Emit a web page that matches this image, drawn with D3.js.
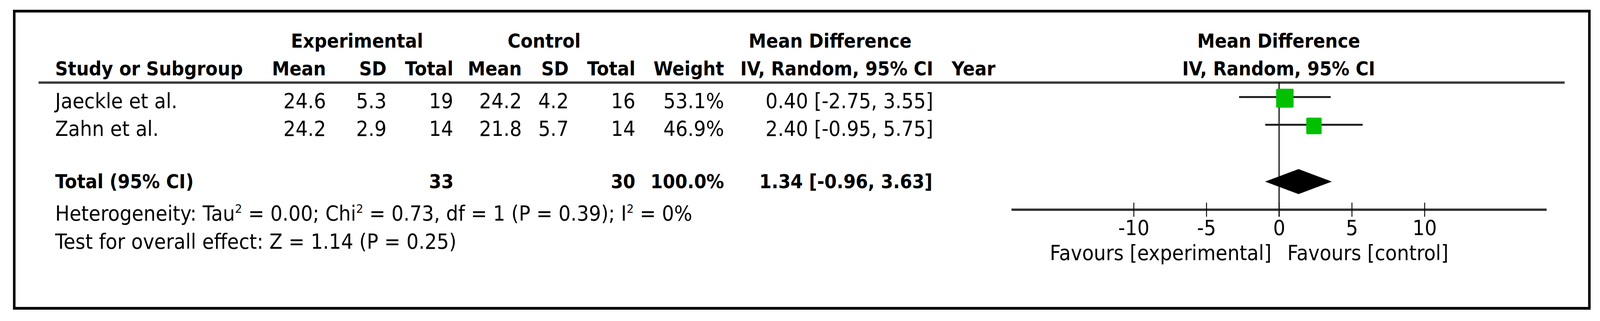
<!DOCTYPE html>
<html lang="en">
  <head>
    <meta charset="utf-8">
    <title>Forest plot - Mean Difference</title>
    <style>
      html, body { margin: 0; padding: 0; background: #fff; overflow: hidden; }
      svg { display: block; background: #fff; width: 100vw; height: 100vh; }
      text { font-family: 'DejaVu Sans', Verdana, sans-serif; font-size: 53px; fill: #000; }
      .bold { font-weight: bold; font-size: 49px; }
    </style>
  </head>
  <body>
    <div id="viz"></div>
    <script src="https://d3js.org/d3.v7.min.js"></script>
    <script>
      // study data
      const studies = ["Jaeckle et al.", "Zahn et al."];
      const expMean = [24.6, 24.2];
      const expSD = [5.3, 2.9];
      const expN = [19, 14];
      const ctlMean = [24.2, 21.8];
      const ctlSD = [4.2, 5.7];
      const ctlN = [16, 14];
      const weights = [53.1, 46.9];
      const md = [0.40, 2.40];
      const mdLo = [-2.75, -0.95];
      const mdHi = [3.55, 5.75];

      const total = { exp: 33, ctl: 30, weight: 100.0, md: 1.34, lo: -0.96, hi: 3.63 };
      const ticks = [-10, -5, 0, 5, 10];
      const xDomain = [-18.4, 18.4];

      const W = 4437, H = 822;

      // drawn in a fixed 4437x822 frame, stretched to whatever the window is
      const svg = d3.select("#viz")
        .append("svg")
        .attr("viewBox", `0 0 ${W} ${H}`)
        .attr("preserveAspectRatio", "none");

      // outer frame
      svg.append("rect")
        .attr("x", 39.5).attr("y", 28.5)
        .attr("width", 4368).attr("height", 761)
        .attr("fill", "none")
        .attr("stroke", "#000")
        .attr("stroke-width", 7);

      const rows = studies.map((s, i) => ({
        study: s, em: expMean[i], esd: expSD[i], en: expN[i],
        cm: ctlMean[i], csd: ctlSD[i], cn: ctlN[i],
        w: weights[i], md: md[i], lo: mdLo[i], hi: mdHi[i]
      }));

      // text baselines of the study rows; plot marks sit a bit above
      const rowY = d3.scalePoint().domain(d3.range(rows.length)).range([277, 348]);
      const baseOf = i => rowY(i);
      const midOf = i => rowY(i) - 28.5;

      const f1 = d3.format(".1f"), f2 = d3.format(".2f");
      const ci = (m, l, h) => `${f2(m)} [${f2(l)}, ${f2(h)}]`.replace(/−/g, "-");

      // columns: x position, anchor
      const cols = [
        { key: "study", x: 153, anchor: "start", head: "Study or Subgroup", fmt: d => d.study },
        { key: "em", x: 904, anchor: "end", head: "Mean", fmt: d => f1(d.em) },
        { key: "esd", x: 1072, anchor: "end", head: "SD", fmt: d => f1(d.esd) },
        { key: "en", x: 1257, anchor: "end", head: "Total", fmt: d => d.en },
        { key: "cm", x: 1447, anchor: "end", head: "Mean", fmt: d => f1(d.cm) },
        { key: "csd", x: 1577, anchor: "end", head: "SD", fmt: d => f1(d.csd) },
        { key: "cn", x: 1762, anchor: "end", head: "Total", fmt: d => d.cn },
        { key: "w", x: 2008, anchor: "end", head: "Weight", fmt: d => f1(d.w) + "%" },
        { key: "md", x: 2588, anchor: "end", head: "IV, Random, 95% CI", fmt: d => ci(d.md, d.lo, d.hi) },
        { key: "year", x: 2639, anchor: "start", head: "Year", fmt: d => "" }
      ];

      // group headings
      const groups = [
        { text: "Experimental", x: 990 },
        { text: "Control", x: 1509 },
        { text: "Mean Difference", x: 2302 },
        { text: "Mean Difference", x: 3546 }
      ];
      svg.append("g").selectAll("text")
        .data(groups)
        .join("text")
        .attr("class", "bold")
        .attr("x", d => d.x).attr("y", 122)
        .attr("text-anchor", "middle")
        .text(d => d.text);

      svg.append("g").selectAll("text")
        .data(cols)
        .join("text")
        .attr("class", "bold")
        .attr("x", d => d.x).attr("y", 193)
        .attr("text-anchor", d => d.anchor)
        .text(d => d.head);

      svg.append("text")
        .attr("class", "bold")
        .attr("x", 3546).attr("y", 193)
        .attr("text-anchor", "middle")
        .text("IV, Random, 95% CI");

      // header rule
      svg.append("line")
        .attr("x1", 107).attr("x2", 4339)
        .attr("y1", 211.5).attr("y2", 211.5)
        .attr("stroke", "#3a3a3a").attr("stroke-width", 6);

      // study rows
      const rowG = svg.append("g").selectAll("g")
        .data(rows)
        .join("g");
      cols.forEach(c => {
        rowG.append("text")
          .attr("x", c.x)
          .attr("y", (d, i) => baseOf(i))
          .attr("text-anchor", c.anchor)
          .text(d => c.fmt(d));
      });

      // total row
      const totY = 482;
      const totCells = [
        { x: 153, a: "start", t: "Total (95% CI)" },
        { x: 1258, a: "end", t: total.exp },
        { x: 1762, a: "end", t: total.ctl },
        { x: 2008, a: "end", t: f1(total.weight) + "%" },
        { x: 2586, a: "end", t: ci(total.md, total.lo, total.hi) }
      ];
      svg.append("g").selectAll("text")
        .data(totCells)
        .join("text")
        .attr("class", "bold")
        .attr("x", d => d.x).attr("y", totY)
        .attr("text-anchor", d => d.a)
        .text(d => d.t);

      // heterogeneity & overall effect
      const het = svg.append("text").attr("x", 153).attr("y", 565);
      const sup = (sel, s) => sel.append("tspan").attr("dy", -20).attr("font-size", 31).text(s);
      const norm = (sel, s) => sel.append("tspan").attr("dy", 20).text(s);
      het.append("tspan").text("Heterogeneity: Tau");
      sup(het, "2");
      norm(het, " = 0.00; Chi");
      sup(het, "2");
      norm(het, " = 0.73, df = 1 (P = 0.39); I");
      sup(het, "2");
      norm(het, " = 0%");

      svg.append("text").attr("x", 153).attr("y", 637)
        .text("Test for overall effect: Z = 1.14 (P = 0.25)");

      // forest plot
      const x = d3.scaleLinear().domain(xDomain).range([2805, 4289]);
      const size = d3.scaleLinear().domain([0, 100]).range([0, 91]);
      const axisY = 537;

      svg.append("line")
        .attr("x1", x(0)).attr("x2", x(0))
        .attr("y1", 211).attr("y2", 555)
        .attr("stroke", "#000").attr("stroke-width", 3);

      const plotG = svg.append("g").selectAll("g")
        .data(rows)
        .join("g");
      plotG.append("line")
        .attr("x1", d => x(d.lo)).attr("x2", d => x(d.hi))
        .attr("y1", (d, i) => midOf(i)).attr("y2", (d, i) => midOf(i))
        .attr("stroke", "#222").attr("stroke-width", 5);
      plotG.append("rect")
        .attr("x", d => x(d.md) - size(d.w) / 2)
        .attr("y", (d, i) => midOf(i) + 3 - size(d.w) / 2)
        .attr("width", d => size(d.w))
        .attr("height", d => size(d.w))
        .attr("rx", 3)
        .attr("fill", "#00c000");

      // pooled diamond
      const dy = 465, dh = 32;
      svg.append("path")
        .attr("d", `M${x(total.lo)},${dy} L${x(total.md)},${dy - dh} L${x(total.hi)},${dy} L${x(total.md)},${dy + dh} Z`)
        .attr("fill", "#000");

      // axis
      const axis = d3.axisBottom(x).tickValues(ticks).tickSize(0).tickFormat(d => String(d));
      const axG = svg.append("g")
        .attr("transform", `translate(0,${axisY})`)
        .call(axis);
      axG.select(".domain")
        .attr("stroke", "#333").attr("stroke-width", 6)
        .attr("d", `M${x(xDomain[0])},0H${x(xDomain[1])}`);
      axG.selectAll(".tick line")
        .attr("y1", -18).attr("y2", 18)
        .attr("stroke", "#000").attr("stroke-width", 2.5);
      axG.selectAll(".tick text")
        .attr("y", 65).attr("dy", 0)
        .attr("font-size", 52)
        .attr("font-family", "'DejaVu Sans', Verdana, sans-serif")
        .attr("fill", "#000");

      svg.append("text")
        .attr("x", x(0) - 21).attr("y", 666)
        .attr("text-anchor", "end")
        .text("Favours [experimental]");
      svg.append("text")
        .attr("x", x(0) + 23).attr("y", 666)
        .attr("text-anchor", "start")
        .text("Favours [control]");
    </script>
  </body>
</html>
